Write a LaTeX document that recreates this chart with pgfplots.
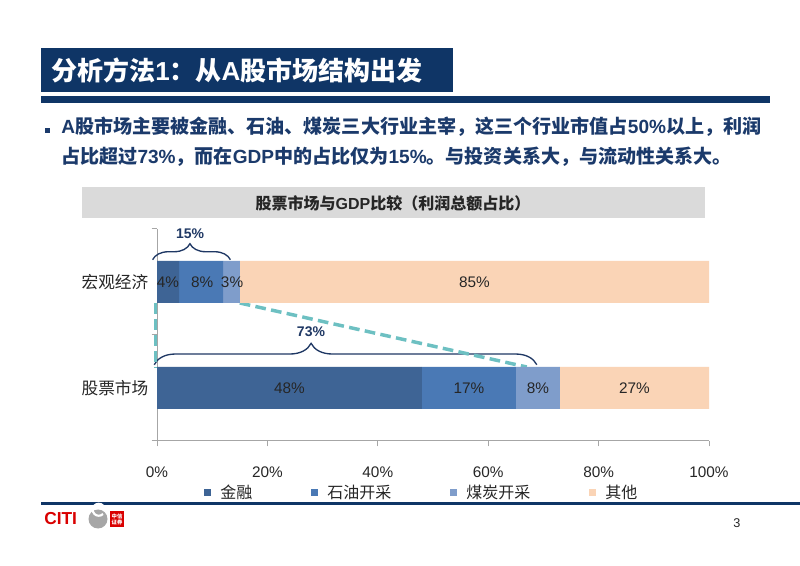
\documentclass[border=0pt]{standalone}
\usepackage{fontspec}
\setmainfont{Liberation Sans}
\newfontfamily\cjk{Noto Sans CJK SC}
\usepackage{pgfplots}
\usepackage{pgfplotstable}
\pgfplotsset{compat=1.18}
\usetikzlibrary{decorations.pathreplacing}
\definecolor{Navy}{HTML}{0F3566}
\definecolor{TextNavy}{HTML}{1B3A6B}
\definecolor{Fin}{HTML}{3E6495}
\definecolor{Oil}{HTML}{4A79B5}
\definecolor{Coal}{HTML}{7F9DCB}
\definecolor{Other}{HTML}{FAD4B6}
\definecolor{Teal}{HTML}{6DC0C2}
\definecolor{BraceNavy}{HTML}{1F3864}
\definecolor{AxisGray}{HTML}{A6A6A6}
\definecolor{BoxGray}{HTML}{DADADA}
\definecolor{Ink}{HTML}{262626}

\tikzset{seglabel/.style={font=\fontsize{11.5}{13}\selectfont, text=Ink},
  bracelabel/.style={text=BraceNavy, font=\bfseries\fontsize{10.5}{12}\selectfont},
  connector/.style={Teal, line width=2.6pt, dash pattern=on 8pt off 4pt}}

% cat 0 = 股票市场, cat 1 = 宏观经济
\pgfplotstableread{
cat fin oil coal other
0 48 17 8 27
1 4 8 3 85
}\shares

\begin{document}
\begin{tikzpicture}
\begin{scope}[x=0.75pt,y=-0.75pt]
\fill[white] (0,0) rectangle (800,566);
% title bar
\fill[Navy] (41,48) rectangle (453,92);
\node[anchor=west, text=white, font=\bfseries\fontsize{19.5}{22}\selectfont, inner sep=0] at (51,70)
  {{\cjk 分析方法}1{\cjk ：从}A{\cjk 股市场结构出发}};
\fill[Navy] (41,96) rectangle (770,103);
% bullet text
\fill[TextNavy] (45,128) rectangle (50,133);
\node[anchor=west, text=TextNavy, font=\bfseries\fontsize{14.3}{17}\selectfont, inner sep=0] at (61,127)
  {A{\cjk 股市场主要被金融、石油、煤炭三大行业主宰，这三个行业市值占}50\%{\cjk 以上，利润}};
\node[anchor=west, text=TextNavy, font=\bfseries\fontsize{14.3}{17}\selectfont, inner sep=0] at (61,157)
  {{\cjk 占比超过}73\%{\cjk ，而在}GDP{\cjk 中的占比仅为}15\%{\cjk 。与投资关系大，与流动性关系大。}};
% chart title box
\fill[BoxGray] (82,187) rectangle (705,218);
\node[text=Ink, font=\bfseries\fontsize{12}{14}\selectfont, inner sep=0] at (393,203)
  {{\cjk 股票市场与}GDP{\cjk 比较（利润总额占比）}};
% bottom rule, logo, page number
\fill[Navy] (41,502) rectangle (800,505);
\node[anchor=west, text=red!85!black, font=\bfseries\fontsize{13}{13}\selectfont, inner sep=0] at (44,519) {CITI};
\fill[gray!70] (98,519) circle (9.5);
\draw[white, line width=1.6pt] (103,514) arc (45:315:6);
\fill[red!85!black] (110,511) rectangle (124,527);
\node[text=white, font=\cjk\bfseries\fontsize{4}{4.5}\selectfont, inner sep=0, align=center] at (117,519) {中信\\证券};
\node[text=Ink, font=\fontsize{9.5}{11}\selectfont] at (737,523) {3};
\end{scope}

\begin{axis}[
  at={(117.75pt,-330.75pt)}, anchor=south west,
  scale only axis, width=414pt, height=159pt,
  xbar stacked, bar width=31.5pt,
  xmin=0, xmax=100, ymin=-0.5, ymax=1.5,
  axis x line*=bottom, axis y line*=left,
  axis line style={AxisGray, line width=0.75pt, -},
  tick align=outside, major tick length=4pt,
  tick style={AxisGray, line width=0.75pt},
  xtick={0,20,...,100},
  xticklabel={\pgfmathprintnumber{\tick}\%},
  /pgf/number format/assume math mode=true,
  xticklabel style={font=\fontsize{11.5}{13}\selectfont, text=Ink, yshift=-12pt},
  ytick={-0.5,0.5,1.5}, yticklabels={,,},
  extra y ticks={0,1}, extra y tick labels={股票市场,宏观经济},
  extra y tick style={major tick length=0pt},
  yticklabel style={font=\cjk\fontsize{12.5}{14}\selectfont, text=Ink, xshift=-3pt},
  clip=false,
  legend columns=4,
  legend style={at={(0.085,-0.245)}, anchor=west, draw=none, fill=none,
    font=\cjk\fontsize{12}{14}\selectfont, text=Ink, inner sep=0pt,
    /tikz/every odd column/.append style={column sep=5pt},
    /tikz/every even column/.append style={column sep=42pt}},
  legend image code/.code={\fill[#1] (0pt,-2.6pt) rectangle (5.2pt,2.6pt);},
]
\addplot[fill=Fin, draw=none] table[x=fin, y=cat] {\shares};
\addlegendentry{金融}
\addplot[fill=Oil, draw=none] table[x=oil, y=cat] {\shares};
\addlegendentry{石油开采}
\addplot[fill=Coal, draw=none] table[x=coal, y=cat] {\shares};
\addlegendentry{煤炭开采}
\addplot[fill=Other, draw=none] table[x=other, y=cat] {\shares};
\addlegendentry{其他}

% anchors for the segment labels (drawn after the axis so they sit on the bars)
\coordinate (s48) at (axis cs:24,0);
\coordinate (s17) at (axis cs:56.5,0);
\coordinate (s8) at (axis cs:69,0);
\coordinate (s27) at (axis cs:86.5,0);
\coordinate (m4) at (axis cs:2,1);
\coordinate (m8) at (axis cs:8.2,1);
\coordinate (m3) at (axis cs:13.6,1);
\coordinate (m85) at (axis cs:57.5,1);

% dashed connectors
\draw[connector] (axis cs:-0.3,0.802) -- (axis cs:-0.3,0.198);
\draw[connector] (axis cs:15,0.802) -- (axis cs:67,0.198);

% braces
\draw[BraceNavy, line width=1pt, decorate, decoration={brace, amplitude=12pt, aspect=0.48}]
  (axis cs:-0.8,1.21) -- (axis cs:13.3,1.21);
\node[bracelabel] at (axis cs:6,1.46) {15\%};
\draw[BraceNavy, line width=1pt, decorate, decoration={brace, amplitude=16pt, aspect=0.41}]
  (axis cs:-0.5,0.22) -- (axis cs:68.8,0.22);
\node[bracelabel] at (axis cs:27.9,0.53) {73\%};
\end{axis}
\node[seglabel] at (s48) {48\%};
\node[seglabel] at (s17) {17\%};
\node[seglabel] at (s8) {8\%};
\node[seglabel] at (s27) {27\%};
\node[seglabel] at (m4) {4\%};
\node[seglabel] at (m8) {8\%};
\node[seglabel] at (m3) {3\%};
\node[seglabel] at (m85) {85\%};
\end{tikzpicture}
\end{document}
